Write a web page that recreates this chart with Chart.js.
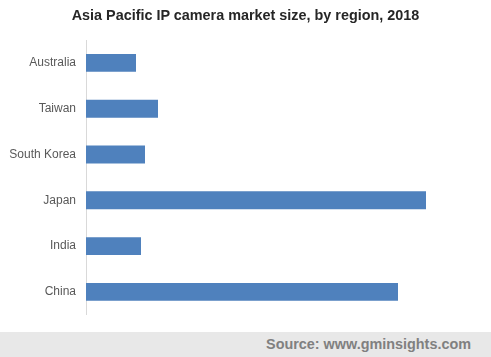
<!DOCTYPE html>
<html>
<head>
<meta charset="utf-8">
<script src="https://cdn.jsdelivr.net/npm/chart.js@4/dist/chart.umd.min.js"></script>
<style>
  html, body { margin: 0; padding: 0; background: #fff; }
  #wrap { position: relative; width: 491px; height: 357px; overflow: hidden; }
  #title { position: absolute; left: 0; top: 7px; width: 491px; text-align: center;
    font: bold 14.4px "Liberation Sans", Arial, sans-serif; color: #262626; line-height: 17px; }
  #footer { position: absolute; left: 0; top: 332px; width: 491px; height: 25px; background: #e8e8e8; }
  #source { position: absolute; right: 20px; top: 4px; font: bold 14.4px "Liberation Sans", Arial, sans-serif; color: #808080; line-height: 17px; }
  canvas { position: absolute; left: 0; top: 0; }
</style>
</head>
<body>
<div id="wrap">
  <canvas id="c" width="491" height="332"></canvas>
  <div id="title">Asia Pacific IP camera market size, by region, 2018</div>
  <div id="footer"><div id="source">Source: www.gminsights.com</div></div>
</div>
<script>
const categories = ["Australia", "Taiwan", "South Korea", "Japan", "India", "China"];
const marketSize = [50, 72, 59, 340, 55, 312];
const xMax = 400;

new Chart(document.getElementById("c"), {
  type: "bar",
  data: {
    labels: categories,
    datasets: [{
      data: marketSize,
      backgroundColor: "#4f81bd",
      borderWidth: 0,
      categoryPercentage: 1,
      barPercentage: 0.39
    }]
  },
  options: {
    indexAxis: "y",
    responsive: false,
    animation: false,
    layout: { padding: { top: 40, bottom: 15, left: 0, right: 5 } },
    plugins: { legend: { display: false }, title: { display: false }, tooltip: { enabled: false } },
    scales: {
      x: { display: false, min: 0, max: xMax },
      y: {
        grid: { display: false, drawTicks: false },
        border: { display: true, color: "#d9d9d9", width: 1 },
        ticks: { color: "#595959", padding: 10, font: { family: "'Liberation Sans', Arial, sans-serif", size: 12 } },
        afterFit: (s) => { s.width = 86; }
      }
    }
  }
});
</script>
</body>
</html>
